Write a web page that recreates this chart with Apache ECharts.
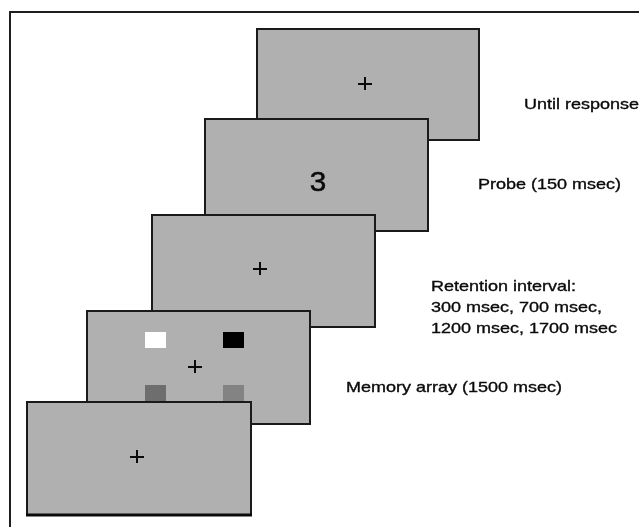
<!DOCTYPE html>
<html>
<head>
<meta charset="utf-8">
<script src="https://cdn.jsdelivr.net/npm/echarts@6/dist/echarts.min.js"></script>
<style>
  html, body { margin: 0; padding: 0; background: #ffffff; }
  #chart { width: 639px; height: 527px; }
</style>
</head>
<body>
<div id="chart"></div>
<script>
// Stimulus screens (back to front), in picture units
const panelX0 = [257, 205, 152, 87, 27];
const panelY0 = [29, 119, 215, 311, 402];
const panelX1 = [479, 428, 375, 310, 251];
const panelY1 = [140, 231, 327, 424, 515];
const panelMark = ['+', '3', '+', '+', '+'];
const markX = [365, 318, 260, 195, 137];
const markY = [84, 184, 269, 367, 457];

// Memory array items (drawn on screen index 3)
const arrayPanel = 3;
const itemX0 = [145, 223, 145, 223];
const itemY0 = [332, 332, 385, 385];
const itemX1 = [166, 244, 166, 244];
const itemY1 = [348, 348, 405, 405];
const itemShade = ['#ffffff', '#000000', '#6e6e6e', '#838383'];

// Phase labels
const labelText = ['Until response', 'Probe (150 msec)', 'Retention interval:', '300 msec, 700 msec,', '1200 msec, 1700 msec', 'Memory array (1500 msec)'];
const labelX = [524, 478, 431, 431, 431, 346];
const labelY = [105, 185, 287, 308, 329, 388];

const FONT = '"Liberation Sans", Arial, Helvetica, sans-serif';

const panelData = panelX0.map((x, i) => [x, panelY0[i], panelX1[i], panelY1[i], markX[i], markY[i]]);
const labelData = labelText.map((t, i) => [labelX[i], labelY[i]]);

const chart = echarts.init(document.getElementById('chart'), null, { renderer: 'canvas' });

chart.setOption({
  animation: false,
  backgroundColor: '#ffffff',
  grid: { left: 10, top: 12, right: 0, bottom: 0 },
  xAxis: {
    type: 'value', min: 10, max: 639, position: 'top',
    axisLine: { show: true, onZero: false, lineStyle: { color: '#1e1e1e', width: 2 } },
    axisTick: { show: false }, axisLabel: { show: false }, splitLine: { show: false }
  },
  yAxis: {
    type: 'value', min: 12, max: 527, inverse: true, position: 'left',
    axisLine: { show: true, onZero: false, lineStyle: { color: '#1e1e1e', width: 2 } },
    axisTick: { show: false }, axisLabel: { show: false }, splitLine: { show: false }
  },
  series: [
    {
      type: 'custom',
      clip: false,
      encode: { x: [0, 2, 4], y: [1, 3, 5] },
      data: panelData,
      renderItem: function (params, api) {
        const i = params.dataIndex;
        const p0 = api.coord([api.value(0), api.value(1)]);
        const p1 = api.coord([api.value(2), api.value(3)]);
        const m = api.coord([api.value(4), api.value(5)]);
        const children = [{
          type: 'rect',
          shape: { x: p0[0], y: p0[1], width: p1[0] - p0[0], height: p1[1] - p0[1] },
          style: { fill: '#b0b0b0', stroke: '#1a1a1a', lineWidth: 2 }
        }];
        if (i === panelX0.length - 1) {
          children.push({
            type: 'line', shape: { x1: p0[0] - 1, y1: p1[1], x2: p1[0] + 1, y2: p1[1] },
            style: { stroke: '#0a0a0a', lineWidth: 3 }
          });
        }
        if (i === arrayPanel) {
          for (let k = 0; k < itemX0.length; k++) {
            const a = api.coord([itemX0[k], itemY0[k]]);
            const b = api.coord([itemX1[k], itemY1[k]]);
            children.push({
              type: 'rect',
              shape: { x: a[0], y: a[1], width: b[0] - a[0], height: b[1] - a[1] },
              style: { fill: itemShade[k] }
            });
          }
        }
        if (panelMark[i] === '+') {
          children.push({
            type: 'line', shape: { x1: m[0] - 7, y1: m[1], x2: m[0] + 7, y2: m[1] },
            style: { stroke: '#0a0a0a', lineWidth: 2 }
          });
          children.push({
            type: 'line', shape: { x1: m[0], y1: m[1] - 7, x2: m[0], y2: m[1] + 6 },
            style: { stroke: '#0a0a0a', lineWidth: 2 }
          });
        } else {
          children.push({
            type: 'text', x: m[0], y: m[1], scaleX: 1.1,
            style: { text: panelMark[i], fontSize: 27, fontFamily: FONT, fill: '#0a0a0a', stroke: '#0a0a0a', lineWidth: 0.5, align: 'center', verticalAlign: 'middle' }
          });
        }
        return { type: 'group', children: children };
      }
    },
    {
      type: 'custom',
      clip: false,
      encode: { x: 0, y: 1 },
      data: labelData,
      renderItem: function (params, api) {
        const i = params.dataIndex;
        const p = api.coord([api.value(0), api.value(1)]);
        return {
          type: 'text', x: p[0], y: p[1], scaleX: 1.2,
          style: { text: labelText[i], fontSize: 15, fontFamily: FONT, fill: '#0a0a0a', stroke: '#0a0a0a', lineWidth: 0.35, align: 'left', verticalAlign: 'middle' }
        };
      }
    }
  ]
});
</script>
</body>
</html>
